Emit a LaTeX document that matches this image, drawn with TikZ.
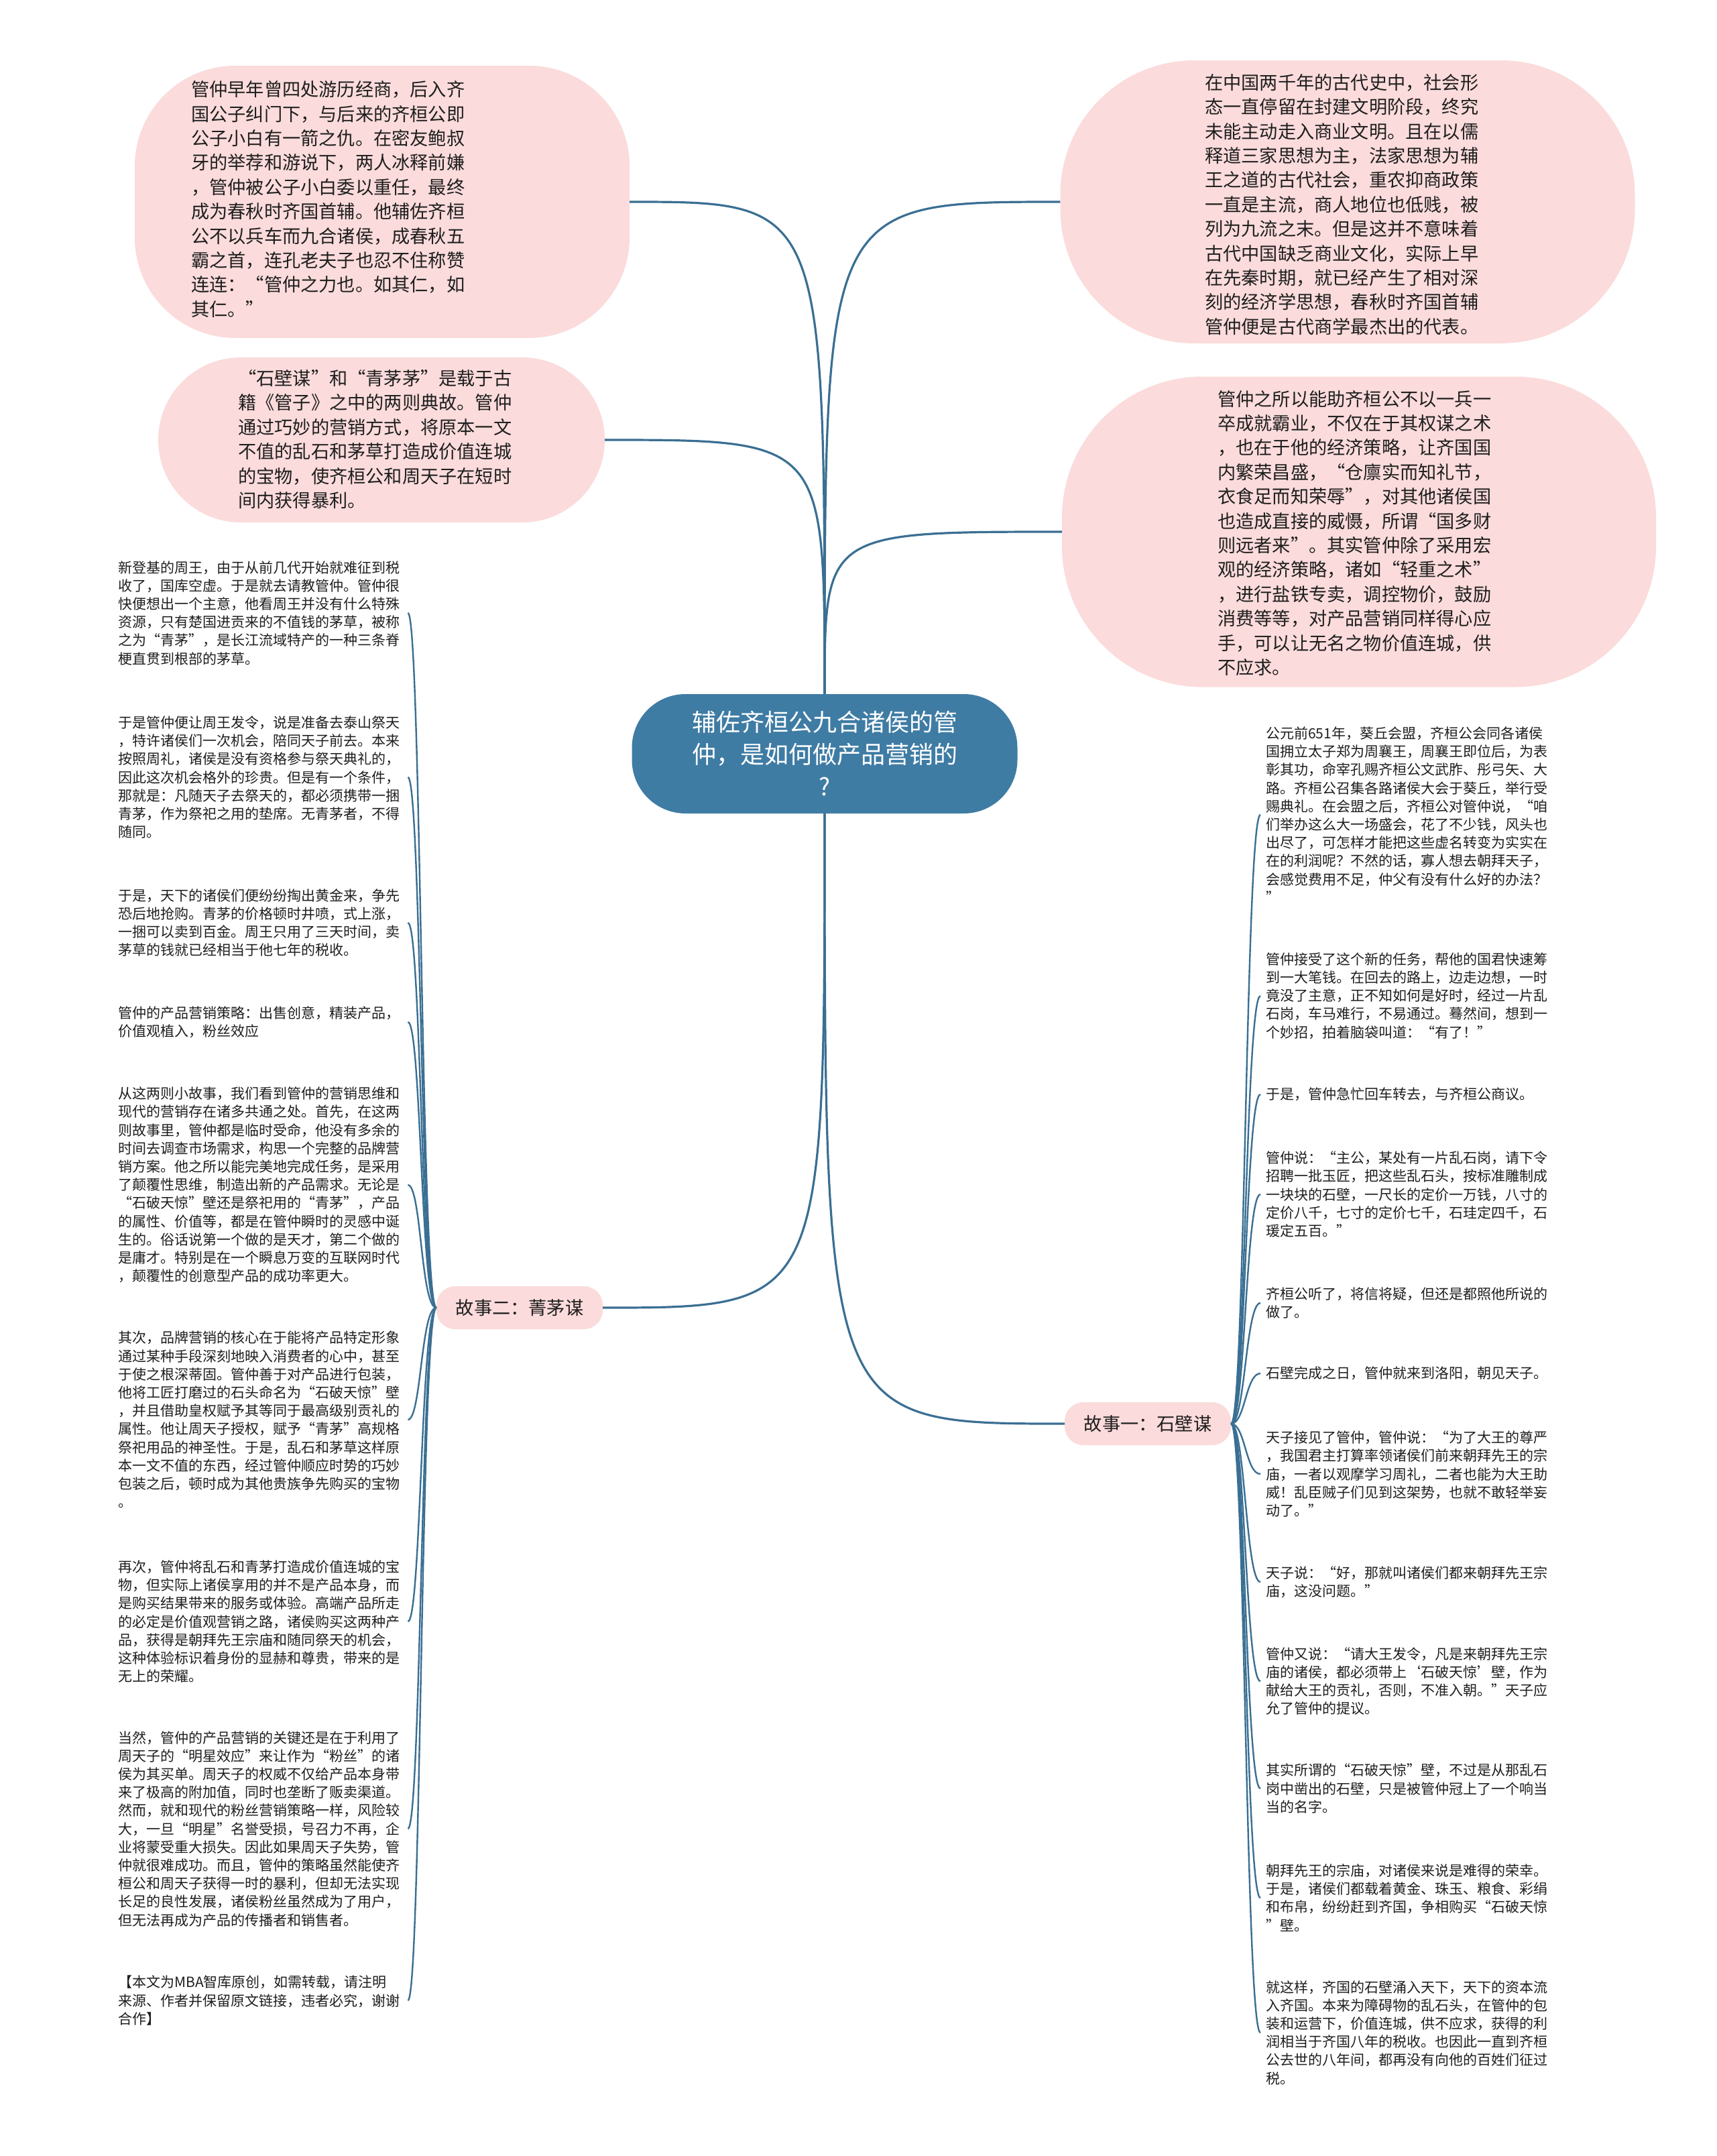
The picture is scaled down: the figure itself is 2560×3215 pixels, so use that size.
\documentclass[tikz,border=0pt]{standalone}
\usepackage{fontspec}
\setmainfont{Noto Sans CJK SC}
\definecolor{pinkfill}{RGB}{251,219,219}
\definecolor{centerc}{RGB}{63,124,164}
\definecolor{connc}{RGB}{58,111,147}
\definecolor{textc}{RGB}{30,30,30}
\begin{document}
\begin{tikzpicture}[x=1pt,y=-1pt,
  ellip/.style={fill=pinkfill, draw=none, rounded corners=#1, inner sep=0},
  etext/.style={font=\fontsize{27.2}{36.4}\selectfont, text width=420, align=left, inner sep=0, text=textc},
  hub/.style={fill=centerc, text=white, rounded corners=80, minimum width=575, minimum height=178, align=center, inner sep=0, font=\fontsize{36}{48}\selectfont},
  story/.style={fill=pinkfill, text=textc, rounded corners=28, minimum width=248, minimum height=64, inner sep=0, font=\fontsize{27.2}{32}\selectfont},
  leaf/.style={font=\fontsize{21}{27.2}\selectfont, text width=424, align=left, inner xsep=8, inner ysep=4, text=textc},
  conn/.style={draw=connc, line width=3.2},
  leafconn/.style={draw=connc, line width=2.4}
]
\useasboundingbox (0,0) rectangle (2560,3215);
\fill[white] (0,0) rectangle (2560,3215);

% ---------- ellipse-like nodes ----------
\node[ellip=150, minimum width=738, minimum height=406] (a1) at (570,301) {};
\node[etext, anchor=west] (a1t) at (285,297) {管仲早年曾四处游历经商，后入齐\\国公子纠门下，与后来的齐桓公即\\公子小白有一箭之仇。在密友鲍叔\\牙的举荐和游说下，两人冰释前嫌\\，管仲被公子小白委以重任，最终\\成为春秋时齐国首辅。他辅佐齐桓\\公不以兵车而九合诸侯，成春秋五\\霸之首，连孔老夫子也忍不住称赞\\连连：“管仲之力也。如其仁，如\\其仁。”};

\node[ellip=123, minimum width=666, minimum height=246] (a2) at (569,656) {};
\node[etext, anchor=west] (a2t) at (355,655) {“石壁谋”和“青茅茅”是载于古\\籍《管子》之中的两则典故。管仲\\通过巧妙的营销方式，将原本一文\\不值的乱石和茅草打造成价值连城\\的宝物，使齐桓公和周天子在短时\\间内获得暴利。};

\node[ellip=200, minimum width=857, minimum height=422] (b1) at (2010,301) {};
\node[etext, anchor=west] (b1t) at (1797,305) {在中国两千年的古代史中，社会形\\态一直停留在封建文明阶段，终究\\未能主动走入商业文明。且在以儒\\释道三家思想为主，法家思想为辅\\王之道的古代社会，重农抑商政策\\一直是主流，商人地位也低贱，被\\列为九流之末。但是这并不意味着\\古代中国缺乏商业文化，实际上早\\在先秦时期，就已经产生了相对深\\刻的经济学思想，春秋时齐国首辅\\管仲便是古代商学最杰出的代表。};

\node[ellip=210, minimum width=886, minimum height=463] (b2) at (2027,793) {};
\node[etext, anchor=west] (b2t) at (1816,795) {管仲之所以能助齐桓公不以一兵一\\卒成就霸业，不仅在于其权谋之术\\，也在于他的经济策略，让齐国国\\内繁荣昌盛，“仓廪实而知礼节，\\衣食足而知荣辱”，对其他诸侯国\\也造成直接的威慑，所谓“国多财\\则远者来”。其实管仲除了采用宏\\观的经济策略，诸如“轻重之术”\\，进行盐铁专卖，调控物价，鼓励\\消费等等，对产品营销同样得心应\\手，可以让无名之物价值连城，供\\不应求。};

% ---------- center ----------
\node[hub] (c) at (1230,1124) {辅佐齐桓公九合诸侯的管\\仲，是如何做产品营销的\\?};

% ---------- story nodes ----------
\node[story] (L) at (775,1950) {故事二：菁茅谋};
\node[story] (R) at (1712,2123) {故事一：石壁谋};

% ---------- main connectors ----------
\draw[conn] (c.north) .. controls (c.north |- a1.east) .. (a1.east);
\draw[conn] (c.north) .. controls (c.north |- a2.east) .. (a2.east);
\draw[conn] (c.north) .. controls (c.north |- b1.west) .. (b1.west);
\draw[conn] (c.north) .. controls (c.north |- b2.west) .. (b2.west);
\draw[conn] (c.south) .. controls (c.south |- L.east) .. (L.east);
\draw[conn] (c.south) .. controls (c.south |- R.west) .. (R.west);

% ---------- left leaves ----------
\node[leaf, anchor=west] (l1) at (168,914) {新登基的周王，由于从前几代开始就难征到税\\收了，国库空虚。于是就去请教管仲。管仲很\\快便想出一个主意，他看周王并没有什么特殊\\资源，只有楚国进贡来的不值钱的茅草，被称\\之为“青茅”，是长江流域特产的一种三条脊\\梗直贯到根部的茅草。};
\node[leaf, anchor=west] (l2) at (168,1159) {于是管仲便让周王发令，说是准备去泰山祭天\\，特许诸侯们一次机会，陪同天子前去。本来\\按照周礼，诸侯是没有资格参与祭天典礼的，\\因此这次机会格外的珍贵。但是有一个条件，\\那就是：凡随天子去祭天的，都必须携带一捆\\青茅，作为祭祀之用的垫席。无青茅者，不得\\随同。};
\node[leaf, anchor=west] (l3) at (168,1376) {于是，天下的诸侯们便纷纷掏出黄金来，争先\\恐后地抢购。青茅的价格顿时井喷，式上涨，\\一捆可以卖到百金。周王只用了三天时间，卖\\茅草的钱就已经相当于他七年的税收。};
\node[leaf, anchor=west] (l4) at (168,1524) {管仲的产品营销策略：出售创意，精装产品，\\价值观植入，粉丝效应};
\node[leaf, anchor=west] (l5) at (168,1767) {从这两则小故事，我们看到管仲的营销思维和\\现代的营销存在诸多共通之处。首先，在这两\\则故事里，管仲都是临时受命，他没有多余的\\时间去调查市场需求，构思一个完整的品牌营\\销方案。他之所以能完美地完成任务，是采用\\了颠覆性思维，制造出新的产品需求。无论是\\“石破天惊”壁还是祭祀用的“青茅”，产品\\的属性、价值等，都是在管仲瞬时的灵感中诞\\生的。俗话说第一个做的是天才，第二个做的\\是庸才。特别是在一个瞬息万变的互联网时代\\，颠覆性的创意型产品的成功率更大。};
\node[leaf, anchor=west] (l6) at (168,2117) {其次，品牌营销的核心在于能将产品特定形象\\通过某种手段深刻地映入消费者的心中，甚至\\于使之根深蒂固。管仲善于对产品进行包装，\\他将工匠打磨过的石头命名为“石破天惊”壁\\，并且借助皇权赋予其等同于最高级别贡礼的\\属性。他让周天子授权，赋予“青茅”高规格\\祭祀用品的神圣性。于是，乱石和茅草这样原\\本一文不值的东西，经过管仲顺应时势的巧妙\\包装之后，顿时成为其他贵族争先购买的宝物\\。};
\node[leaf, anchor=west] (l7) at (168,2418) {再次，管仲将乱石和青茅打造成价值连城的宝\\物，但实际上诸侯享用的并不是产品本身，而\\是购买结果带来的服务或体验。高端产品所走\\的必定是价值观营销之路，诸侯购买这两种产\\品，获得是朝拜先王宗庙和随同祭天的机会，\\这种体验标识着身份的显赫和尊贵，带来的是\\无上的荣耀。};
\node[leaf, anchor=west] (l8) at (168,2727) {当然，管仲的产品营销的关键还是在于利用了\\周天子的“明星效应”来让作为“粉丝”的诸\\侯为其买单。周天子的权威不仅给产品本身带\\来了极高的附加值，同时也垄断了贩卖渠道。\\然而，就和现代的粉丝营销策略一样，风险较\\大，一旦“明星”名誉受损，号召力不再，企\\业将蒙受重大损失。因此如果周天子失势，管\\仲就很难成功。而且，管仲的策略虽然能使齐\\桓公和周天子获得一时的暴利，但却无法实现\\长足的良性发展，诸侯粉丝虽然成为了用户，\\但无法再成为产品的传播者和销售者。};
\node[leaf, anchor=west] (l9) at (168,2983) {【本文为MBA智库原创，如需转载，请注明\\来源、作者并保留原文链接，违者必究，谢谢\\合作】};

% ---------- right leaves ----------
\node[leaf, anchor=west] (r1) at (1880,1215) {公元前651年，葵丘会盟，齐桓公会同各诸侯\\国拥立太子郑为周襄王，周襄王即位后，为表\\彰其功，命宰孔赐齐桓公文武胙、彤弓矢、大\\路。齐桓公召集各路诸侯大会于葵丘，举行受\\赐典礼。在会盟之后，齐桓公对管仲说，“咱\\们举办这么大一场盛会，花了不少钱，风头也\\出尽了，可怎样才能把这些虚名转变为实实在\\在的利润呢？不然的话，寡人想去朝拜天子，\\会感觉费用不足，仲父有没有什么好的办法？\\”};
\node[leaf, anchor=west] (r2) at (1880,1485) {管仲接受了这个新的任务，帮他的国君快速筹\\到一大笔钱。在回去的路上，边走边想，一时\\竟没了主意，正不知如何是好时，经过一片乱\\石岗，车马难行，不易通过。蓦然间，想到一\\个妙招，拍着脑袋叫道：“有了！”};
\node[leaf, anchor=west] (r3) at (1880,1632) {于是，管仲急忙回车转去，与齐桓公商议。};
\node[leaf, anchor=west] (r4) at (1880,1781) {管仲说：“主公，某处有一片乱石岗，请下令\\招聘一批玉匠，把这些乱石头，按标准雕制成\\一块块的石壁，一尺长的定价一万钱，八寸的\\定价八千，七寸的定价七千，石珪定四千，石\\瑗定五百。”};
\node[leaf, anchor=west] (r5) at (1880,1943) {齐桓公听了，将信将疑，但还是都照他所说的\\做了。};
\node[leaf, anchor=west] (r6) at (1880,2048) {石壁完成之日，管仲就来到洛阳，朝见天子。};
\node[leaf, anchor=west] (r7) at (1880,2198) {天子接见了管仲，管仲说：“为了大王的尊严\\，我国君主打算率领诸侯们前来朝拜先王的宗\\庙，一者以观摩学习周礼，二者也能为大王助\\威！乱臣贼子们见到这架势，也就不敢轻举妄\\动了。”};
\node[leaf, anchor=west] (r8) at (1880,2359) {天子说：“好，那就叫诸侯们都来朝拜先王宗\\庙，这没问题。”};
\node[leaf, anchor=west] (r9) at (1880,2507) {管仲又说：“请大王发令，凡是来朝拜先王宗\\庙的诸侯，都必须带上‘石破天惊’壁，作为\\献给大王的贡礼，否则，不准入朝。”天子应\\允了管仲的提议。};
\node[leaf, anchor=west] (r10) at (1880,2667) {其实所谓的“石破天惊”壁，不过是从那乱石\\岗中凿出的石壁，只是被管仲冠上了一个响当\\当的名字。};
\node[leaf, anchor=west] (r11) at (1880,2830) {朝拜先王的宗庙，对诸侯来说是难得的荣幸。\\于是，诸侯们都载着黄金、珠玉、粮食、彩绢\\和布帛，纷纷赶到齐国，争相购买“石破天惊\\”壁。};
\node[leaf, anchor=west] (r12) at (1880,3031) {就这样，齐国的石壁涌入天下，天下的资本流\\入齐国。本来为障碍物的乱石头，在管仲的包\\装和运营下，价值连城，供不应求，获得的利\\润相当于齐国八年的税收。也因此一直到齐桓\\公去世的八年间，都再没有向他的百姓们征过\\税。};

% ---------- leaf connectors ----------
\foreach \n in {l1,l2,l3,l4,l5,l6,l7,l8,l9}
  \draw[leafconn] (L.west) .. controls +(-23,0) and +(20,0) .. (\n.east);
\foreach \n in {r1,r2,r3,r4,r5,r6,r7,r8,r9,r10,r11,r12}
  \draw[leafconn] (R.east) .. controls +(21,0) and +(-22,0) .. (\n.west);
\end{tikzpicture}
\end{document}
